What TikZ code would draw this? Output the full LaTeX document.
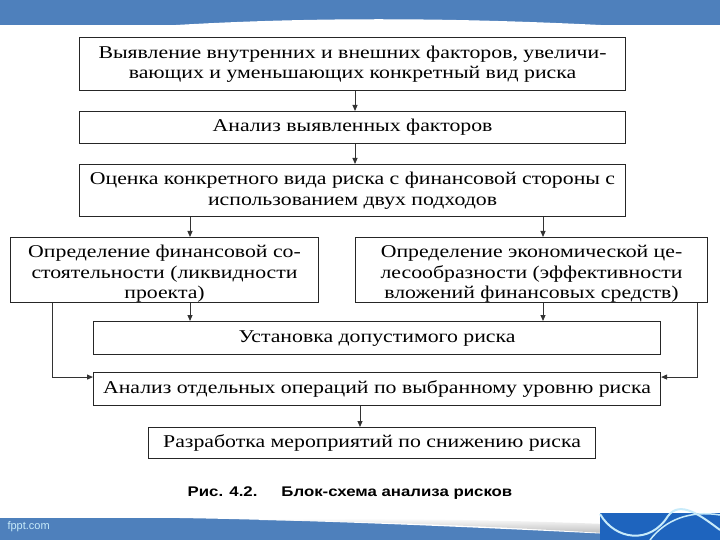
\documentclass[tikz,border=0pt]{standalone}
\usepackage{fontspec}
\setmainfont{Liberation Serif}[FakeStretch=1.21]
\newfontfamily\capfont{Liberation Sans}[FakeStretch=1.2]
\newfontfamily\fpptfont{Liberation Sans}
\usetikzlibrary{arrows.meta}
\definecolor{bandblue}{RGB}{78,128,188}
\definecolor{deepblue}{RGB}{30,100,190}
\definecolor{lightcyan}{RGB}{200,235,250}
\tikzset{
  blk/.style={draw=black!85, line width=1.1pt, fill=white, anchor=north west,
    inner sep=0pt, align=center, font=\fontsize{18}{20.5}\selectfont},
  conn/.style={draw=black!80, line width=1pt, -{Triangle[length=6pt,width=5pt]}},
}
\begin{document}
\begin{tikzpicture}[x=1pt,y=-1pt]
\useasboundingbox (0,0) rectangle (720,540);
\fill[white] (0,0) rectangle (720,540);
% top band
\fill[bandblue] (0,0) rectangle (720,25);
\fill[white] (160,26) .. controls (300,17) and (450,17) .. (620,26) -- cycle;
% bottom band
\fill[bandblue] (0,518) rectangle (720,540);
\fill[white] (70,517) .. controls (250,517) and (450,526) .. (610,534) -- (610,510) -- (70,510) -- cycle;
\shade[top color=white, bottom color=black!25] (260,520) .. controls (400,522) and (500,527) .. (605,533) -- (605,524) .. controls (500,520) and (400,518) .. (260,520) -- cycle;
\fill[deepblue] (600,513) rectangle (720,540);
\fill[white] (600,510) rectangle (720,513);
\draw[lightcyan, line width=2pt] (600,514) .. controls (615,540) and (650,545) .. (668,516) .. controls (680,500) and (700,515) .. (720,530);
\draw[lightcyan, line width=1.5pt] (650,540) .. controls (665,520) and (690,510) .. (720,515);
\node[anchor=west, text=lightcyan, font=\fpptfont\fontsize{11}{12}\selectfont] (fppt) at (4,527) {fppt.com};
% boxes
\node[blk, minimum width=546pt, minimum height=53pt] (b1) at (79,37)
  {Выявление внутренних и внешних факторов, увеличи-\\вающих и уменьшающих конкретный вид риска};
\node[blk, minimum width=546pt, minimum height=32pt] (b2) at (79,111)
  {Анализ выявленных факторов};
\node[blk, minimum width=546pt, minimum height=52pt] (b3) at (79,164)
  {Оценка конкретного вида риска с финансовой стороны с\\использованием двух подходов};
\node[blk, minimum width=308pt, minimum height=63pt] (b4) at (10,237)
  {\rule{0pt}{20pt}Определение финансовой со-\\стоятельности (ликвидности\\проекта)};
\node[blk, minimum width=352pt, minimum height=63pt] (b5) at (355,237)
  {\rule{0pt}{20pt}Определение экономической це-\\лесообразности (эффективности\\вложений финансовых средств)};
\node[blk, minimum width=567pt, minimum height=33pt] (b6) at (93,321)
  {Установка допустимого риска};
\node[blk, minimum width=567pt, minimum height=33pt] (b7) at (93,372)
  {Анализ отдельных операций по выбранному уровню риска};
\node[blk, minimum width=447pt, minimum height=31pt] (b8) at (148,427)
  {Разработка мероприятий по снижению риска};
% connectors
\draw[conn] (b1.south -| 355,0) -- (b2.north -| 355,0);
\draw[conn] (b2.south -| 355,0) -- (b3.north -| 355,0);
\draw[conn] (b3.south -| 190,0) -- (b4.north -| 190,0);
\draw[conn] (b3.south -| 543,0) -- (b5.north -| 543,0);
\draw[conn] (b4.south -| 190,0) -- (b6.north -| 190,0);
\draw[conn] (b5.south -| 543,0) -- (b6.north -| 543,0);
\draw[conn] (b4.south -| 52,0) |- ([yshift=12pt]b7.west);
\draw[conn] (b5.south -| 697,0) |- ([yshift=12pt]b7.east);
\draw[conn] (b7.south -| 360,0) -- (b8.north -| 360,0);
% caption
\node[font=\capfont\bfseries\fontsize{14}{16}\selectfont] (cap) at (350,493)
  {Рис. 4.2.\hspace{24pt}Блок-схема анализа рисков};
\end{tikzpicture}
\end{document}
